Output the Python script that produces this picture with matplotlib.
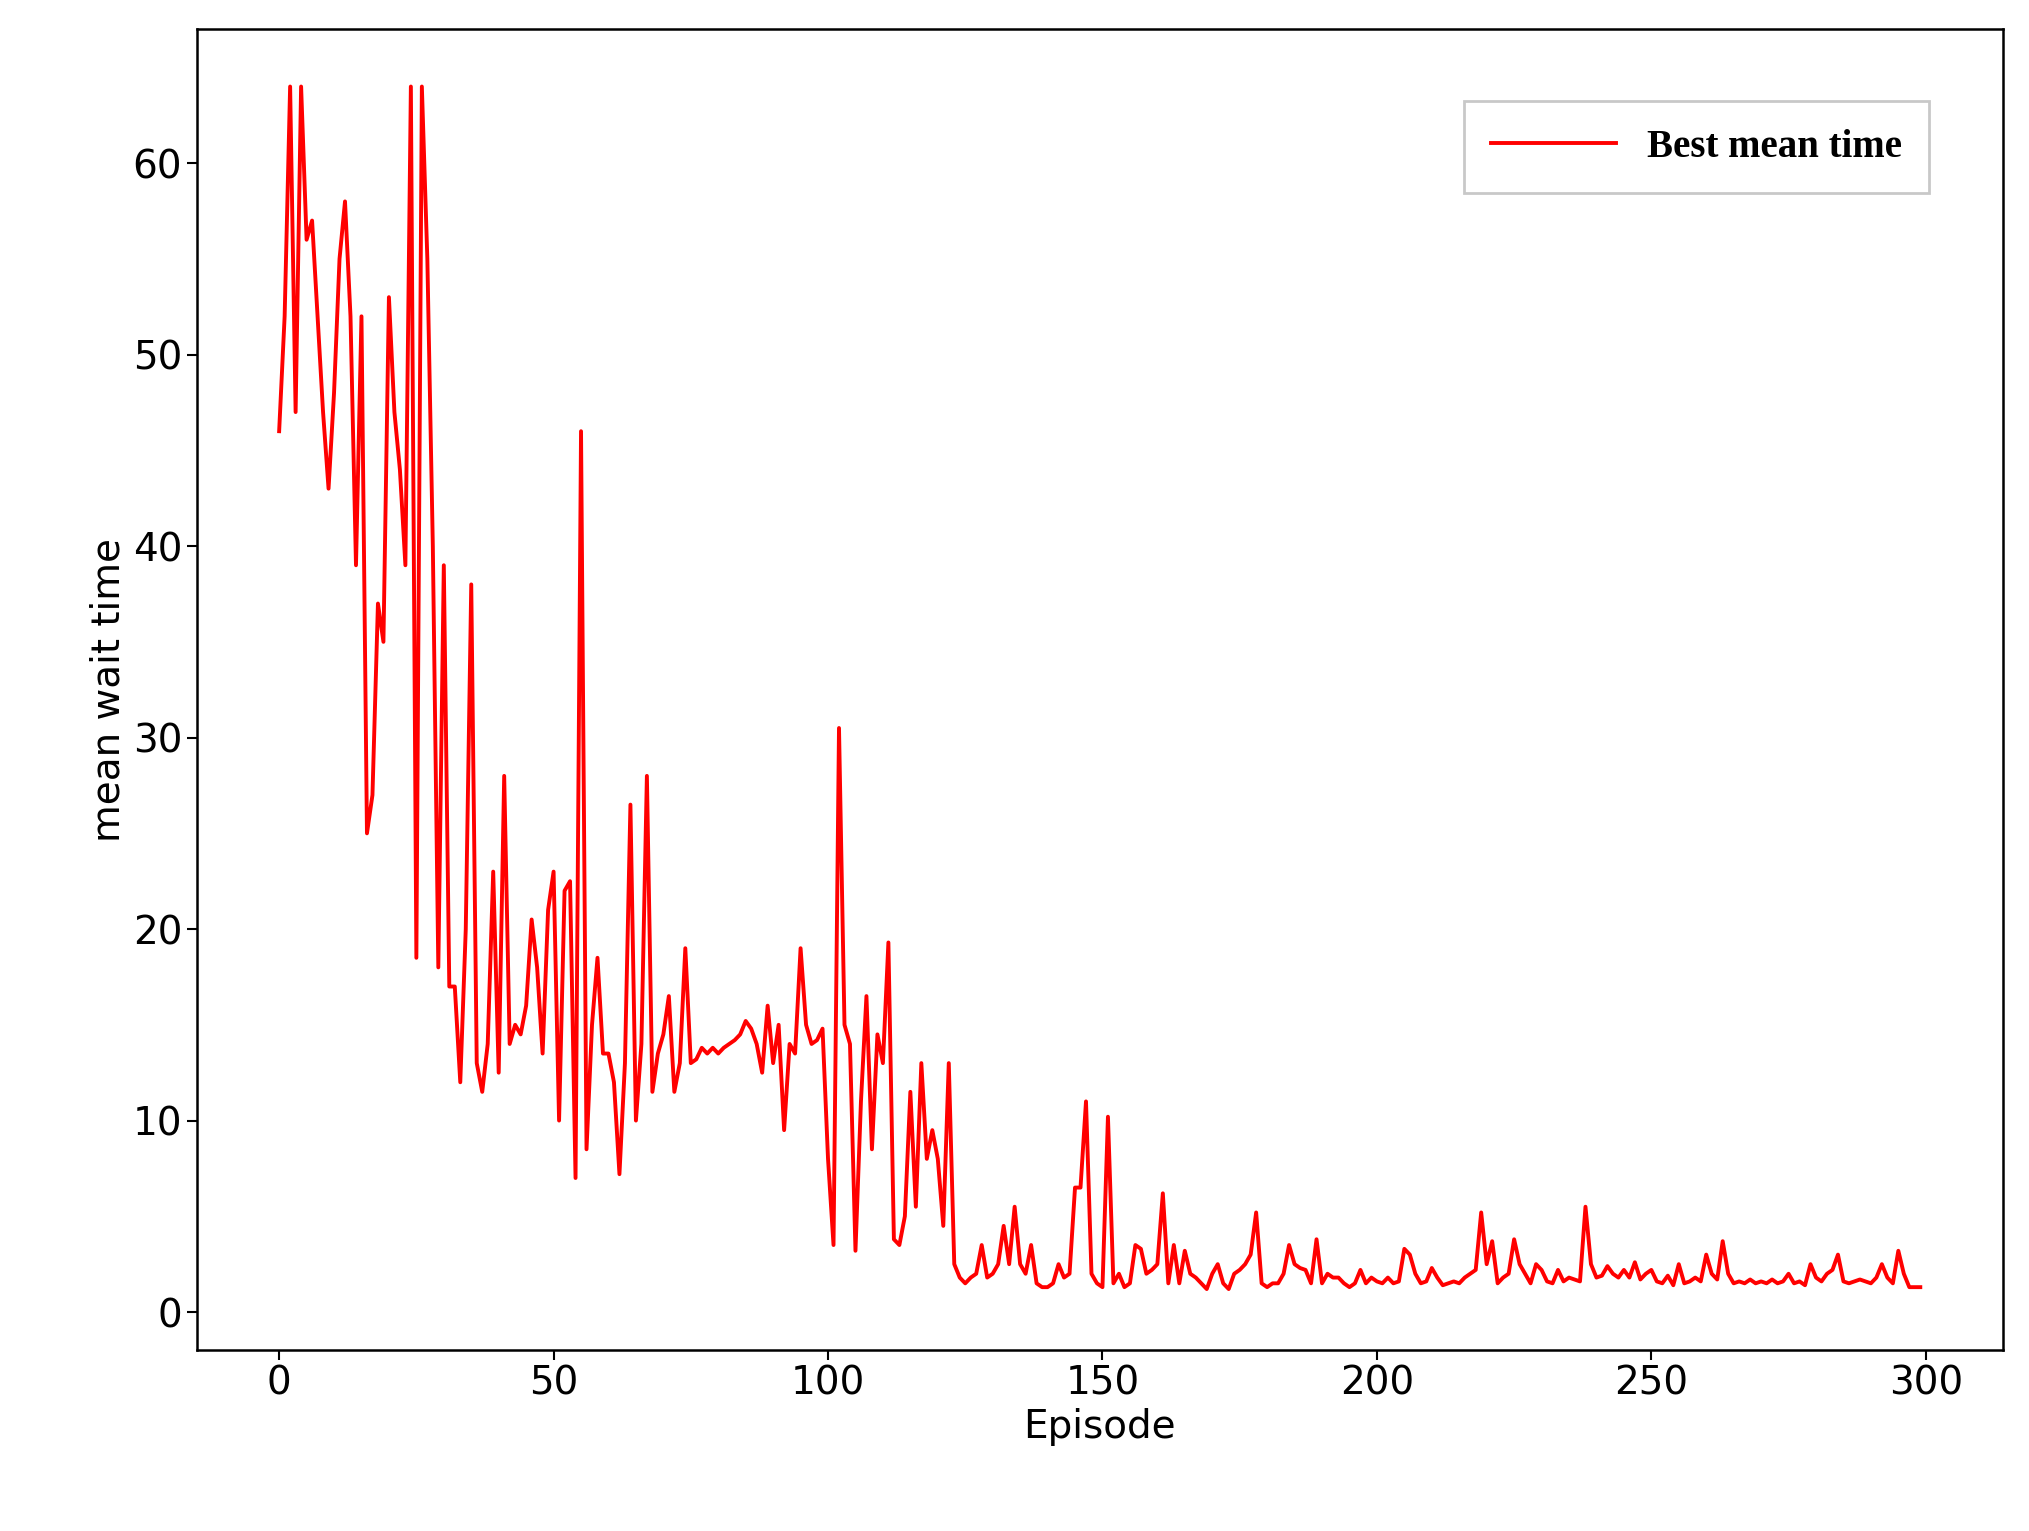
import matplotlib
matplotlib.use("Agg")
import matplotlib.pyplot as plt
import numpy as np

wait_0_99 = [46, 52, 64, 47, 64, 56, 57, 52, 47, 43,
             48, 55, 58, 52, 39, 52, 25, 27, 37, 35,
             53, 47, 44, 39, 64, 18.5, 64, 55, 40, 18,
             39, 17, 17, 12, 20, 38, 13, 11.5, 14, 23,
             12.5, 28, 14, 15, 14.5, 16, 20.5, 18, 13.5, 21,
             23, 10, 22, 22.5, 7, 46, 8.5, 15, 18.5, 13.5,
             13.5, 12, 7.2, 13, 26.5, 10, 14, 28, 11.5, 13.5,
             14.5, 16.5, 11.5, 13, 19, 13, 13.2, 13.8, 13.5, 13.8,
             13.5, 13.8, 14, 14.2, 14.5, 15.2, 14.8, 14, 12.5, 16,
             13, 15, 9.5, 14, 13.5, 19, 15, 14, 14.2, 14.8]
wait_100_199 = [8, 3.5, 30.5, 15, 14, 3.2, 11, 16.5, 8.5, 14.5,
                13, 19.3, 3.8, 3.5, 5, 11.5, 5.5, 13, 8, 9.5,
                8, 4.5, 13, 2.5, 1.8, 1.5, 1.8, 2, 3.5, 1.8,
                2, 2.5, 4.5, 2.5, 5.5, 2.5, 2, 3.5, 1.5, 1.3,
                1.3, 1.5, 2.5, 1.8, 2, 6.5, 6.5, 11, 2, 1.5,
                1.3, 10.2, 1.5, 2, 1.3, 1.5, 3.5, 3.3, 2, 2.2,
                2.5, 6.2, 1.5, 3.5, 1.5, 3.2, 2, 1.8, 1.5, 1.2,
                2, 2.5, 1.5, 1.2, 2, 2.2, 2.5, 3, 5.2, 1.5,
                1.3, 1.5, 1.5, 2, 3.5, 2.5, 2.3, 2.2, 1.5, 3.8,
                1.5, 2, 1.8, 1.8, 1.5, 1.3, 1.5, 2.2, 1.5, 1.8]
wait_200_299 = [1.6, 1.5, 1.8, 1.5, 1.6, 3.3, 3, 2, 1.5, 1.6,
                2.3, 1.8, 1.4, 1.5, 1.6, 1.5, 1.8, 2, 2.2, 5.2,
                2.5, 3.7, 1.5, 1.8, 2, 3.8, 2.5, 2, 1.5, 2.5,
                2.2, 1.6, 1.5, 2.2, 1.6, 1.8, 1.7, 1.6, 5.5, 2.5,
                1.8, 1.9, 2.4, 2, 1.8, 2.2, 1.8, 2.6, 1.7, 2,
                2.2, 1.6, 1.5, 1.9, 1.4, 2.5, 1.5, 1.6, 1.8, 1.6,
                3, 2, 1.7, 3.7, 2, 1.5, 1.6, 1.5, 1.7, 1.5,
                1.6, 1.5, 1.7, 1.5, 1.6, 2, 1.5, 1.6, 1.4, 2.5,
                1.8, 1.6, 2, 2.2, 3, 1.6, 1.5, 1.6, 1.7, 1.6,
                1.5, 1.8, 2.5, 1.8, 1.5, 3.2, 2, 1.3, 1.3, 1.3]
wait = wait_0_99 + wait_100_199 + wait_200_299
episodes = np.arange(len(wait))

fig = plt.figure(figsize=(20.29, 15.31), dpi=100)
ax = fig.add_axes([0.097, 0.118, 0.89, 0.863])
ax.plot(episodes, wait, color="red", linewidth=2.8, label="Best mean time")
ax.set_xlim(-15, 314)
ax.set_ylim(-2, 67)
ax.set_xticks([0, 50, 100, 150, 200, 250, 300])
ax.set_yticks([0, 10, 20, 30, 40, 50, 60])
ax.tick_params(labelsize=28, width=1.5, length=7)
for s in ax.spines.values():
    s.set_linewidth(1.8)
ax.set_xlabel("Episode", fontsize=28)
ax.set_ylabel("mean wait time", fontsize=28)
leg = ax.legend(loc="upper right", prop={"family": "Liberation Serif", "weight": "bold", "size": 28},
                fancybox=False, handlelength=3.2, borderpad=0.7, bbox_to_anchor=(0.97, 0.96))
leg.get_frame().set_edgecolor("#bbbbbb")
leg.get_frame().set_linewidth(2)
fig.savefig("out.png", dpi=100)
